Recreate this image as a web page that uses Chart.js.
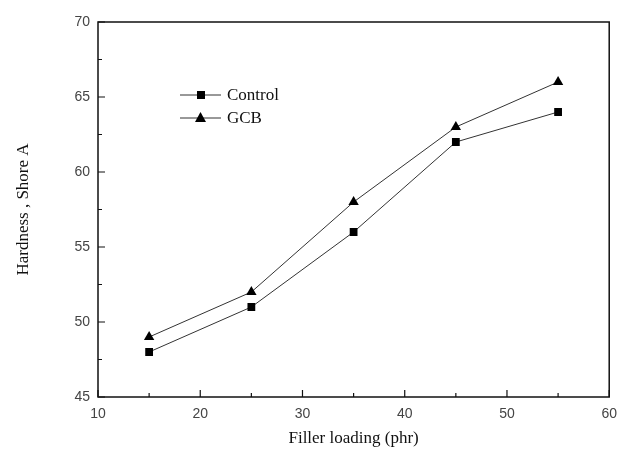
<!DOCTYPE html>
<html>
<head>
<meta charset="utf-8">
<script src="https://cdn.jsdelivr.net/npm/chart.js@4.4.1/dist/chart.umd.min.js"></script>
<style>
  html, body { margin: 0; padding: 0; background: #fff; }
  #wrap { width: 618px; height: 449px; }
</style>
</head>
<body>
<div id="wrap"><canvas id="hardnessChart" width="618" height="449"></canvas></div>
<script>
const fillerLoading = [15, 25, 35, 45, 55];
const controlHardness = [48, 51, 56, 62, 64];
const gcbHardness = [49, 52, 58, 63, 66];
const xTicks = [10, 20, 30, 40, 50, 60];
const yTicks = [45, 50, 55, 60, 65, 70];

const serif = '"Liberation Serif", "Times New Roman", serif';
const sans = '"Liberation Sans", Arial, sans-serif';

const toPoints = (ys) => fillerLoading.map((x, i) => ({ x: x, y: ys[i] }));

// frame, inward ticks and the legend drawn inside the plot box
const framePlugin = {
  id: 'frame',
  afterDraw(chart) {
    const { ctx, chartArea: a, scales } = chart;
    const xs = scales.x, ys = scales.y;
    ctx.save();
    ctx.strokeStyle = '#111';
    ctx.lineWidth = 1.5;
    ctx.strokeRect(a.left, a.top, a.right - a.left, a.bottom - a.top);

    ctx.lineWidth = 1.2;
    ctx.beginPath();
    for (let v = 10; v <= 60; v += 5) {
      const px = xs.getPixelForValue(v);
      const len = v % 10 === 0 ? 7 : 4;
      ctx.moveTo(px, a.bottom);
      ctx.lineTo(px, a.bottom - len);
    }
    for (let v = 45; v <= 70; v += 2.5) {
      const py = ys.getPixelForValue(v);
      const len = v % 5 === 0 ? 7 : 4;
      ctx.moveTo(a.left, py);
      ctx.lineTo(a.left + len, py);
    }
    ctx.stroke();

    // legend
    const lx = a.left + 82, ly = a.top + 73;
    chart.data.datasets.forEach((ds, i) => {
      const y = ly + i * 23;
      ctx.strokeStyle = '#333';
      ctx.lineWidth = 1;
      ctx.beginPath();
      ctx.moveTo(lx, y);
      ctx.lineTo(lx + 41, y);
      ctx.stroke();
      ctx.fillStyle = '#000';
      if (ds.pointStyle === 'triangle') {
        ctx.beginPath();
        ctx.moveTo(lx + 20.5, y - 6);
        ctx.lineTo(lx + 26, y + 4);
        ctx.lineTo(lx + 15, y + 4);
        ctx.closePath();
        ctx.fill();
      } else {
        ctx.fillRect(lx + 17, y - 4, 8, 8);
      }
      ctx.font = '17px ' + serif;
      ctx.fillStyle = '#111';
      ctx.textBaseline = 'middle';
      ctx.fillText(ds.label, lx + 47, y + 1);
    });
    ctx.restore();
  }
};

new Chart(document.getElementById('hardnessChart').getContext('2d'), {
  type: 'line',
  data: {
    datasets: [
      {
        label: 'Control',
        data: toPoints(controlHardness),
        borderColor: '#333',
        borderWidth: 1,
        pointStyle: 'rect',
        pointRadius: 5.5,
        pointBackgroundColor: '#000',
        pointBorderColor: '#000',
        pointBorderWidth: 0,
        tension: 0
      },
      {
        label: 'GCB',
        data: toPoints(gcbHardness),
        borderColor: '#333',
        borderWidth: 1,
        pointStyle: 'triangle',
        pointRadius: 6,
        pointBackgroundColor: '#000',
        pointBorderColor: '#000',
        pointBorderWidth: 0,
        tension: 0
      }
    ]
  },
  options: {
    responsive: false,
    animation: false,
    layout: { padding: { top: 22, right: 2, left: 0, bottom: 0 } },
    plugins: {
      legend: { display: false },
      tooltip: { enabled: false }
    },
    scales: {
      x: {
        type: 'linear',
        min: 10,
        max: 60,
        afterBuildTicks: (s) => { s.ticks = xTicks.map((v) => ({ value: v })); },
        afterFit: (s) => { s.height = 52; },
        grid: { display: false },
        border: { display: false },
        ticks: { padding: 1, color: '#444', font: { family: sans, size: 14 } },
        title: {
          display: true,
          text: 'Filler loading (phr)',
          color: '#111',
          font: { family: serif, size: 17 },
          padding: { top: 4, bottom: 0 }
        }
      },
      y: {
        type: 'linear',
        min: 45,
        max: 70,
        afterBuildTicks: (s) => { s.ticks = yTicks.map((v) => ({ value: v })); },
        afterFit: (s) => { s.width = 98; },
        grid: { display: false },
        border: { display: false },
        ticks: { padding: 0, color: '#444', font: { family: sans, size: 14 } },
        title: {
          display: true,
          text: 'Hardness , Shore A',
          color: '#111',
          font: { family: serif, size: 17 },
          padding: { top: 13, bottom: 0 }
        }
      }
    }
  },
  plugins: [framePlugin]
});
</script>
</body>
</html>
